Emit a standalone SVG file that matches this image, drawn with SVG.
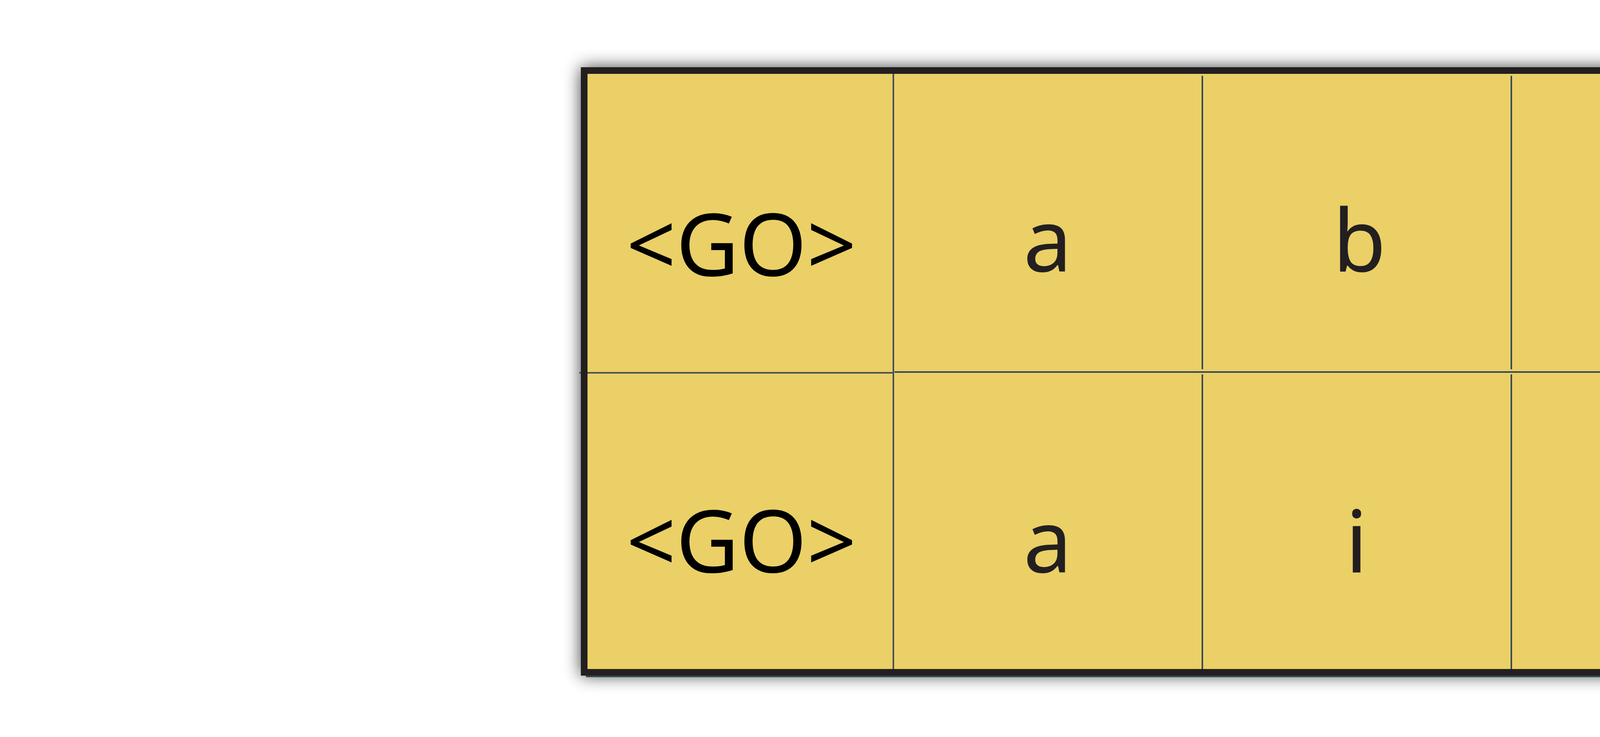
<svg xmlns="http://www.w3.org/2000/svg" width="7754" height="1886" viewBox="0 0 7754 1886">
  <defs>
    <filter id="shadow" x="-10%" y="-20%" width="120%" height="140%">
      <feGaussianBlur stdDeviation="22"/>
    </filter>
    <style>
      .cell { fill: #EAD066; }
      .lbl { font-family: "Noto Sans", "Open Sans", "DejaVu Sans", sans-serif; font-size: 222px; fill: #231F20; text-anchor: middle; }
      .tag { fill: #000000; }
      .div { stroke: #46505A; stroke-width: 4; fill: none; }
      .div2 { stroke: #37495A; stroke-width: 4; fill: none; }
      .frame { fill: none; stroke: #231F20; stroke-width: 17; }
      .edge { stroke: #34495A; stroke-width: 4; fill: none; }
    </style>
  </defs>
  <rect width="7754" height="1886" fill="#FFFFFF"/>

  <g id="table-shadow">
    <rect x="1487" y="172" width="4767" height="1557" fill="#000000" opacity="0.75" filter="url(#shadow)"/>
  </g>

  <g id="table-background">
    <rect class="cell" x="1495" y="180" width="4751" height="1541"/>
  </g>

  <g id="grid-lines">
    <line class="div" x1="2287" y1="189" x2="2287" y2="1713"/>
    <line class="div2" x1="3078" y1="194" x2="3078" y2="945"/>
    <line class="div2" x1="3078" y1="958" x2="3078" y2="1713"/>
    <line class="div2" x1="3869" y1="194" x2="3869" y2="945"/>
    <line class="div2" x1="3869" y1="958" x2="3869" y2="1713"/>
    <line class="div2" x1="4661" y1="194" x2="4661" y2="945"/>
    <line class="div2" x1="4661" y1="958" x2="4661" y2="1713"/>
    <line class="div2" x1="5454" y1="194" x2="5454" y2="945"/>
    <line class="div2" x1="5454" y1="958" x2="5454" y2="1713"/>
    <line class="div" x1="1483" y1="954" x2="2287" y2="954"/>
    <line class="div2" x1="2290" y1="952" x2="6233" y2="952"/>
  </g>

  <g id="row1">
    <g id="r1c1"><text class="lbl tag" x="1898" y="706">&lt;GO&gt;</text></g>
    <g id="r1c2"><text class="lbl" x="2682" y="695">a</text></g>
    <g id="r1c3"><text class="lbl" x="3480" y="695">b</text></g>
    <g id="r1c4"><text class="lbl" x="4265" y="695">q</text></g>
    <g id="r1c5"><text class="lbl" x="5057" y="695">q</text></g>
    <g id="r1c6"><text class="lbl" x="5846" y="695">s</text></g>
  </g>

  <g id="row2">
    <g id="r2c1"><text class="lbl tag" x="1898" y="1465">&lt;GO&gt;</text></g>
    <g id="r2c2"><text class="lbl" x="2682" y="1465">a</text></g>
    <g id="r2c3"><text class="lbl" x="3473" y="1465">i</text></g>
    <g id="r2c4"><text class="lbl" x="4265" y="1465">k</text></g>
    <g id="r2c5"><text class="lbl" x="5057" y="1465">l</text></g>
    <g id="r2c6"><text class="lbl" x="5846" y="1465">&lt;EOS&gt;</text></g>
  </g>

  <g id="table-frame">
    <rect class="frame" x="1495.5" y="180.5" width="4750" height="1540"/>
    <line class="edge" x1="6256" y1="195" x2="6256" y2="1731"/>
    <line class="edge" x1="1500" y1="1731" x2="6258" y2="1731"/>
  </g>
</svg>
